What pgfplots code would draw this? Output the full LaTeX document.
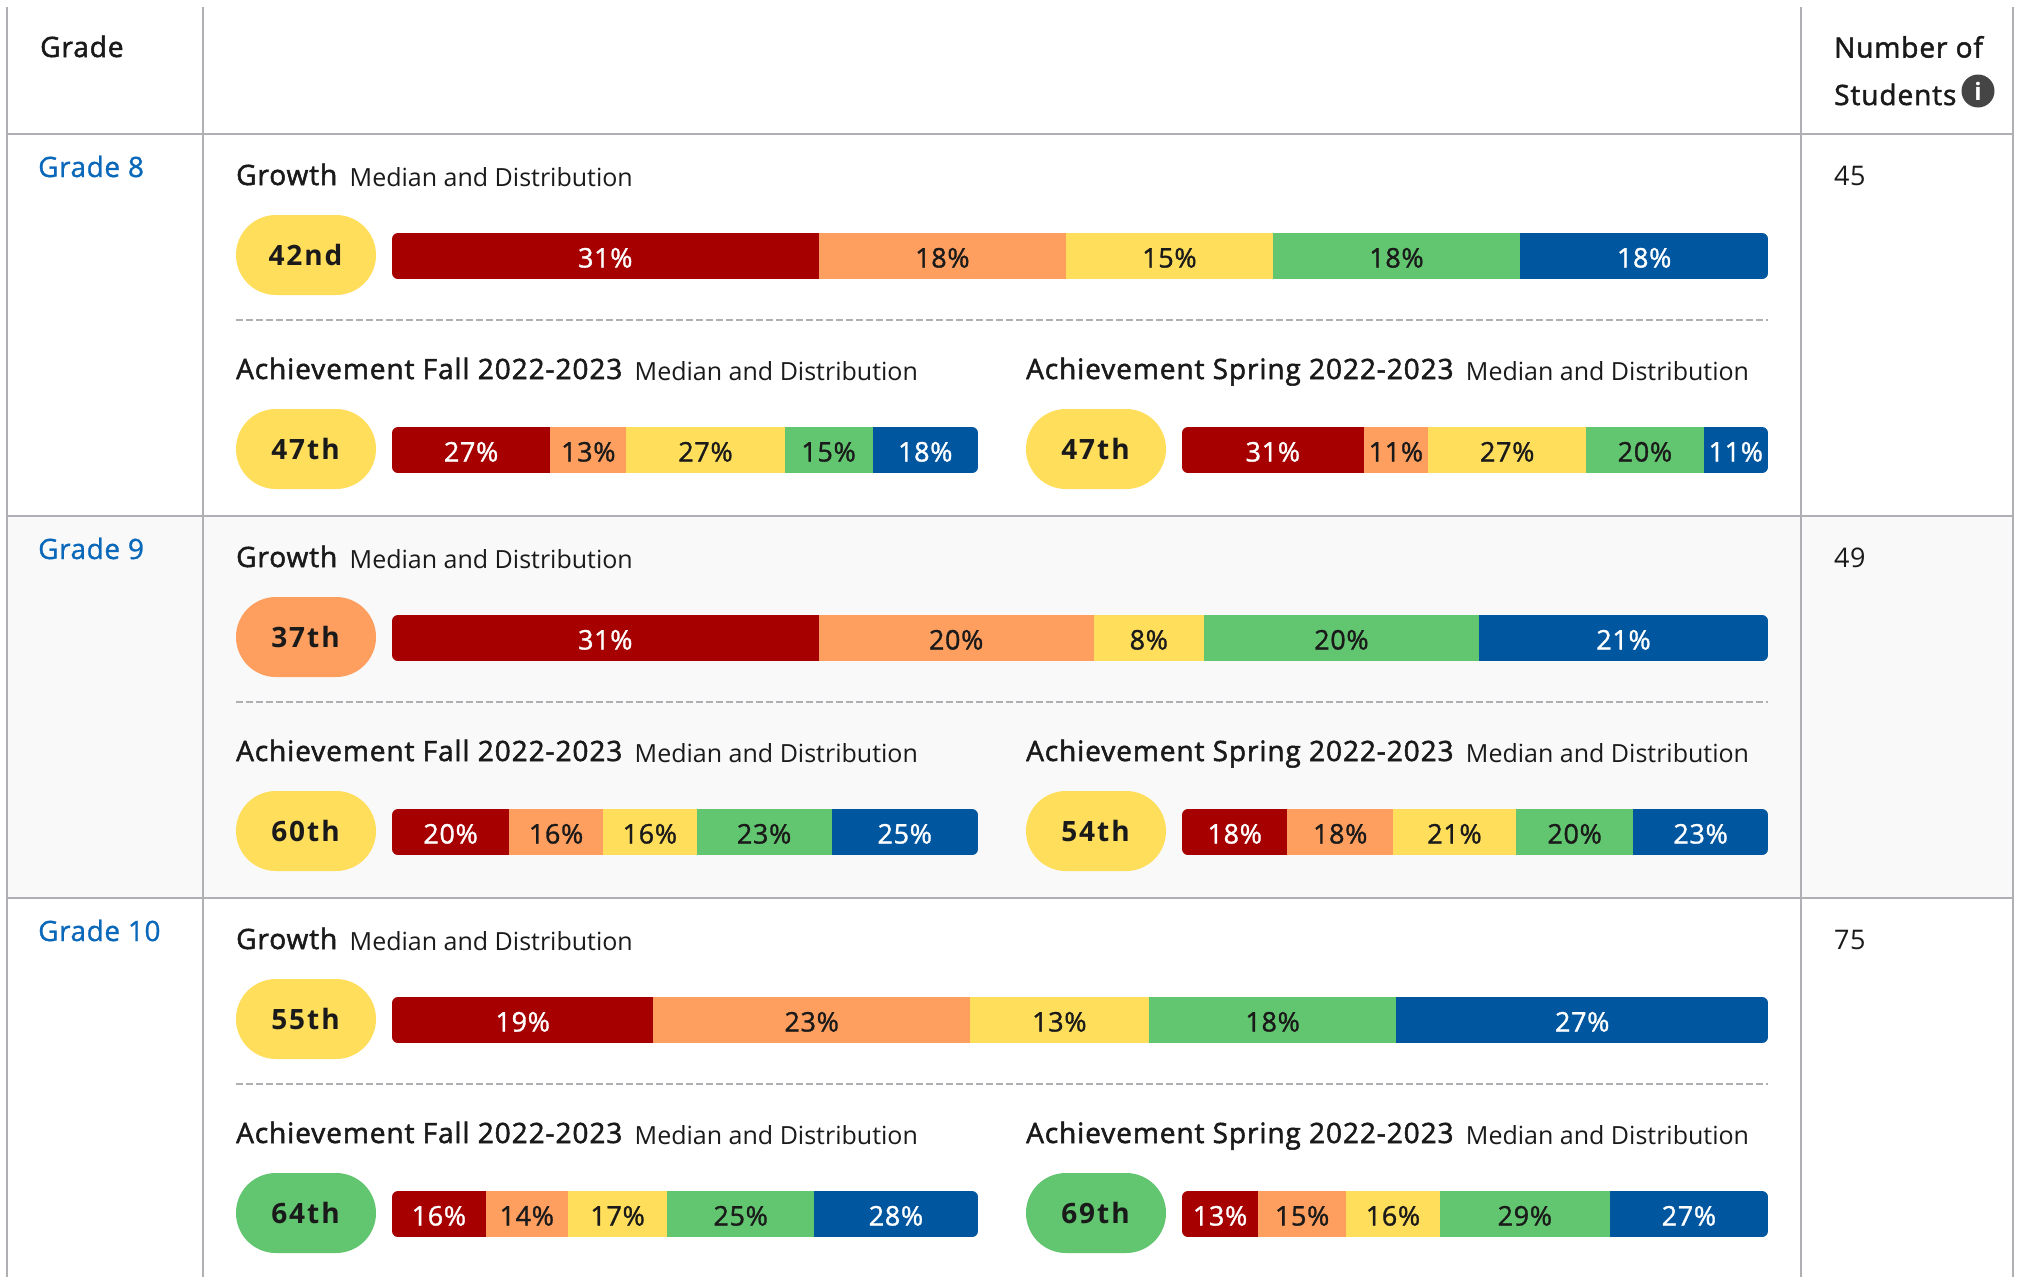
\documentclass[border=0pt]{standalone}
\usepackage{pgfplots}
\pgfplotsset{compat=1.18}
\usepackage{fontspec}
\setmainfont{Open Sans}
\newfontfamily\fReg{Open Sans}[LetterSpace=2]
\newfontfamily\fBar{Open Sans}[FakeBold=1.2,LetterSpace=2.4]
\newfontfamily\fPlain{Open Sans}
\newfontfamily\fHead{Open Sans}[FakeBold=1.8,LetterSpace=3.3]
\newfontfamily\fLink{Open Sans}[FakeBold=1,LetterSpace=2]
\newfontfamily\fPill{Open Sans}[LetterSpace=7]
\definecolor{cred}{HTML}{A60000}
\definecolor{corange}{HTML}{FE9F5F}
\definecolor{cyellow}{HTML}{FFDE5C}
\definecolor{cgreen}{HTML}{62C56F}
\definecolor{cblue}{HTML}{00569F}
\definecolor{ctext}{HTML}{1A1A1A}
\definecolor{clink}{HTML}{0A68BA}
\definecolor{cline}{HTML}{B0B0B4}
\definecolor{calt}{HTML}{F9F9F9}
\newcommand\lab[3]{\node[anchor=base west,inner sep=0pt,text=ctext,font=\fReg\fontsize{#3}{#3}\selectfont] at (#1pt,-#2pt)}
\newcommand\hlab[3]{\node[anchor=base west,inner sep=0pt,text=ctext,font=\fHead\fontsize{#3}{#3}\selectfont] at (#1pt,-#2pt)}
% stacked bars put their nodes near coords at the middle of each segment
\newcommand\seg[3]{\addplot[fill=#1,draw=none,
  nodes near coords={#3\%},
  nodes near coords style={anchor=base,inner sep=0pt,text=#2,
    font=\fBar\fontsize{27}{27}\selectfont,yshift=-11.5pt}]
  coordinates {(#3,0)};}
% x y width v1..v5
\newcommand\distbar[8]{%
\begin{scope}
\clip[rounded corners=6pt] (#1pt,-#2pt) rectangle ++(#3pt,-46pt);
\begin{axis}[at={(#1pt,-#2pt)},anchor=north west,scale only axis,width=#3pt,height=46pt,
  xbar stacked,bar width=46pt,xmin=0,xmax=100,ymin=-0.5,ymax=0.5,hide axis]
\seg{cred}{white}{#4}
\seg{corange}{ctext}{#5}
\seg{cyellow}{ctext}{#6}
\seg{cgreen}{ctext}{#7}
\seg{cblue}{white}{#8}
\end{axis}
\end{scope}}
\newcommand\pill[4]{% x y colour text
\fill[#3,rounded corners=39.9pt] (#1pt,-#2pt) rectangle ++(140pt,-80pt);
\node[anchor=base,inner sep=0pt,text=ctext,font=\fPill\bfseries\fontsize{28}{28}\selectfont]
  at ({#1pt+69.5pt},{-#2pt-50pt}) {#4};}
\newcommand\headline[3]{% x baseline title
\node[anchor=base west,inner sep=0pt,text=ctext,font=\fHead\fontsize{28}{28}\selectfont] (h) at (#1pt,-#2pt) {#3};
\node[anchor=base west,inner sep=0pt,text=ctext,font=\fPlain\fontsize{25}{25}\selectfont] at ([xshift=12pt,yshift=-1pt]h.base east) {Median and Distribution};}
\newcommand\row[1]{% y offset
\headline{236}{\the\numexpr185+#1\relax}{Growth}
\headline{236}{\the\numexpr379+#1\relax}{Achievement Fall 2022-2023}
\headline{1026}{\the\numexpr379+#1\relax}{Achievement Spring 2022-2023}
\draw[cline,line width=1.5pt,dash pattern=on 6.5pt off 3.5pt] (236pt,-\the\numexpr320+#1\relax pt) -- (1768pt,-\the\numexpr320+#1\relax pt);}
\begin{document}
\begin{tikzpicture}
\useasboundingbox (0pt,0pt) rectangle (2019pt,-1277pt);
\fill[white] (0pt,0pt) rectangle (2019pt,-1277pt);
\fill[calt] (7pt,-516pt) rectangle (2013pt,-898pt);
\foreach \x in {7,203,1801,2013} \draw[cline,line width=2pt] (\x pt,-7pt) -- (\x pt,-1277pt);
\foreach \y in {134,516,898} \draw[cline,line width=2pt] (6pt,-\y pt) -- (2014pt,-\y pt);
% header
\hlab{40}{57}{28} {Grade};
\hlab{1834}{57.5}{28} {Number of};
\hlab{1834}{105}{28} {Students};
\fill[black!73] (1978pt,-91pt) circle (16.5pt);
\node[text=white,inner sep=0pt,font=\bfseries\fontsize{24}{24}\selectfont] at (1978pt,-91pt) {i};
% rows
\foreach \t/\y in {Grade 8/177,Grade 9/559,Grade 10/941}
  \node[anchor=base west,inner sep=0pt,text=clink,font=\fLink\fontsize{28}{28}\selectfont] at (38pt,-\y pt) {\t};
\lab{1834}{185}{27} {45};
\lab{1834}{567}{27} {49};
\lab{1834}{949}{27} {75};
\row{0}
\row{382}
\row{764}
% Grade 8
\pill{236}{215}{cyellow}{42nd}
\distbar{392}{233}{1376}{31}{18}{15}{18}{18}
\pill{236}{409}{cyellow}{47th}
\distbar{392}{427}{586}{27}{13}{27}{15}{18}
\pill{1026}{409}{cyellow}{47th}
\distbar{1182}{427}{586}{31}{11}{27}{20}{11}
% Grade 9
\pill{236}{597}{corange}{37th}
\distbar{392}{615}{1376}{31}{20}{8}{20}{21}
\pill{236}{791}{cyellow}{60th}
\distbar{392}{809}{586}{20}{16}{16}{23}{25}
\pill{1026}{791}{cyellow}{54th}
\distbar{1182}{809}{586}{18}{18}{21}{20}{23}
% Grade 10
\pill{236}{979}{cyellow}{55th}
\distbar{392}{997}{1376}{19}{23}{13}{18}{27}
\pill{236}{1173}{cgreen}{64th}
\distbar{392}{1191}{586}{16}{14}{17}{25}{28}
\pill{1026}{1173}{cgreen}{69th}
\distbar{1182}{1191}{586}{13}{15}{16}{29}{27}
\end{tikzpicture}
\end{document}
